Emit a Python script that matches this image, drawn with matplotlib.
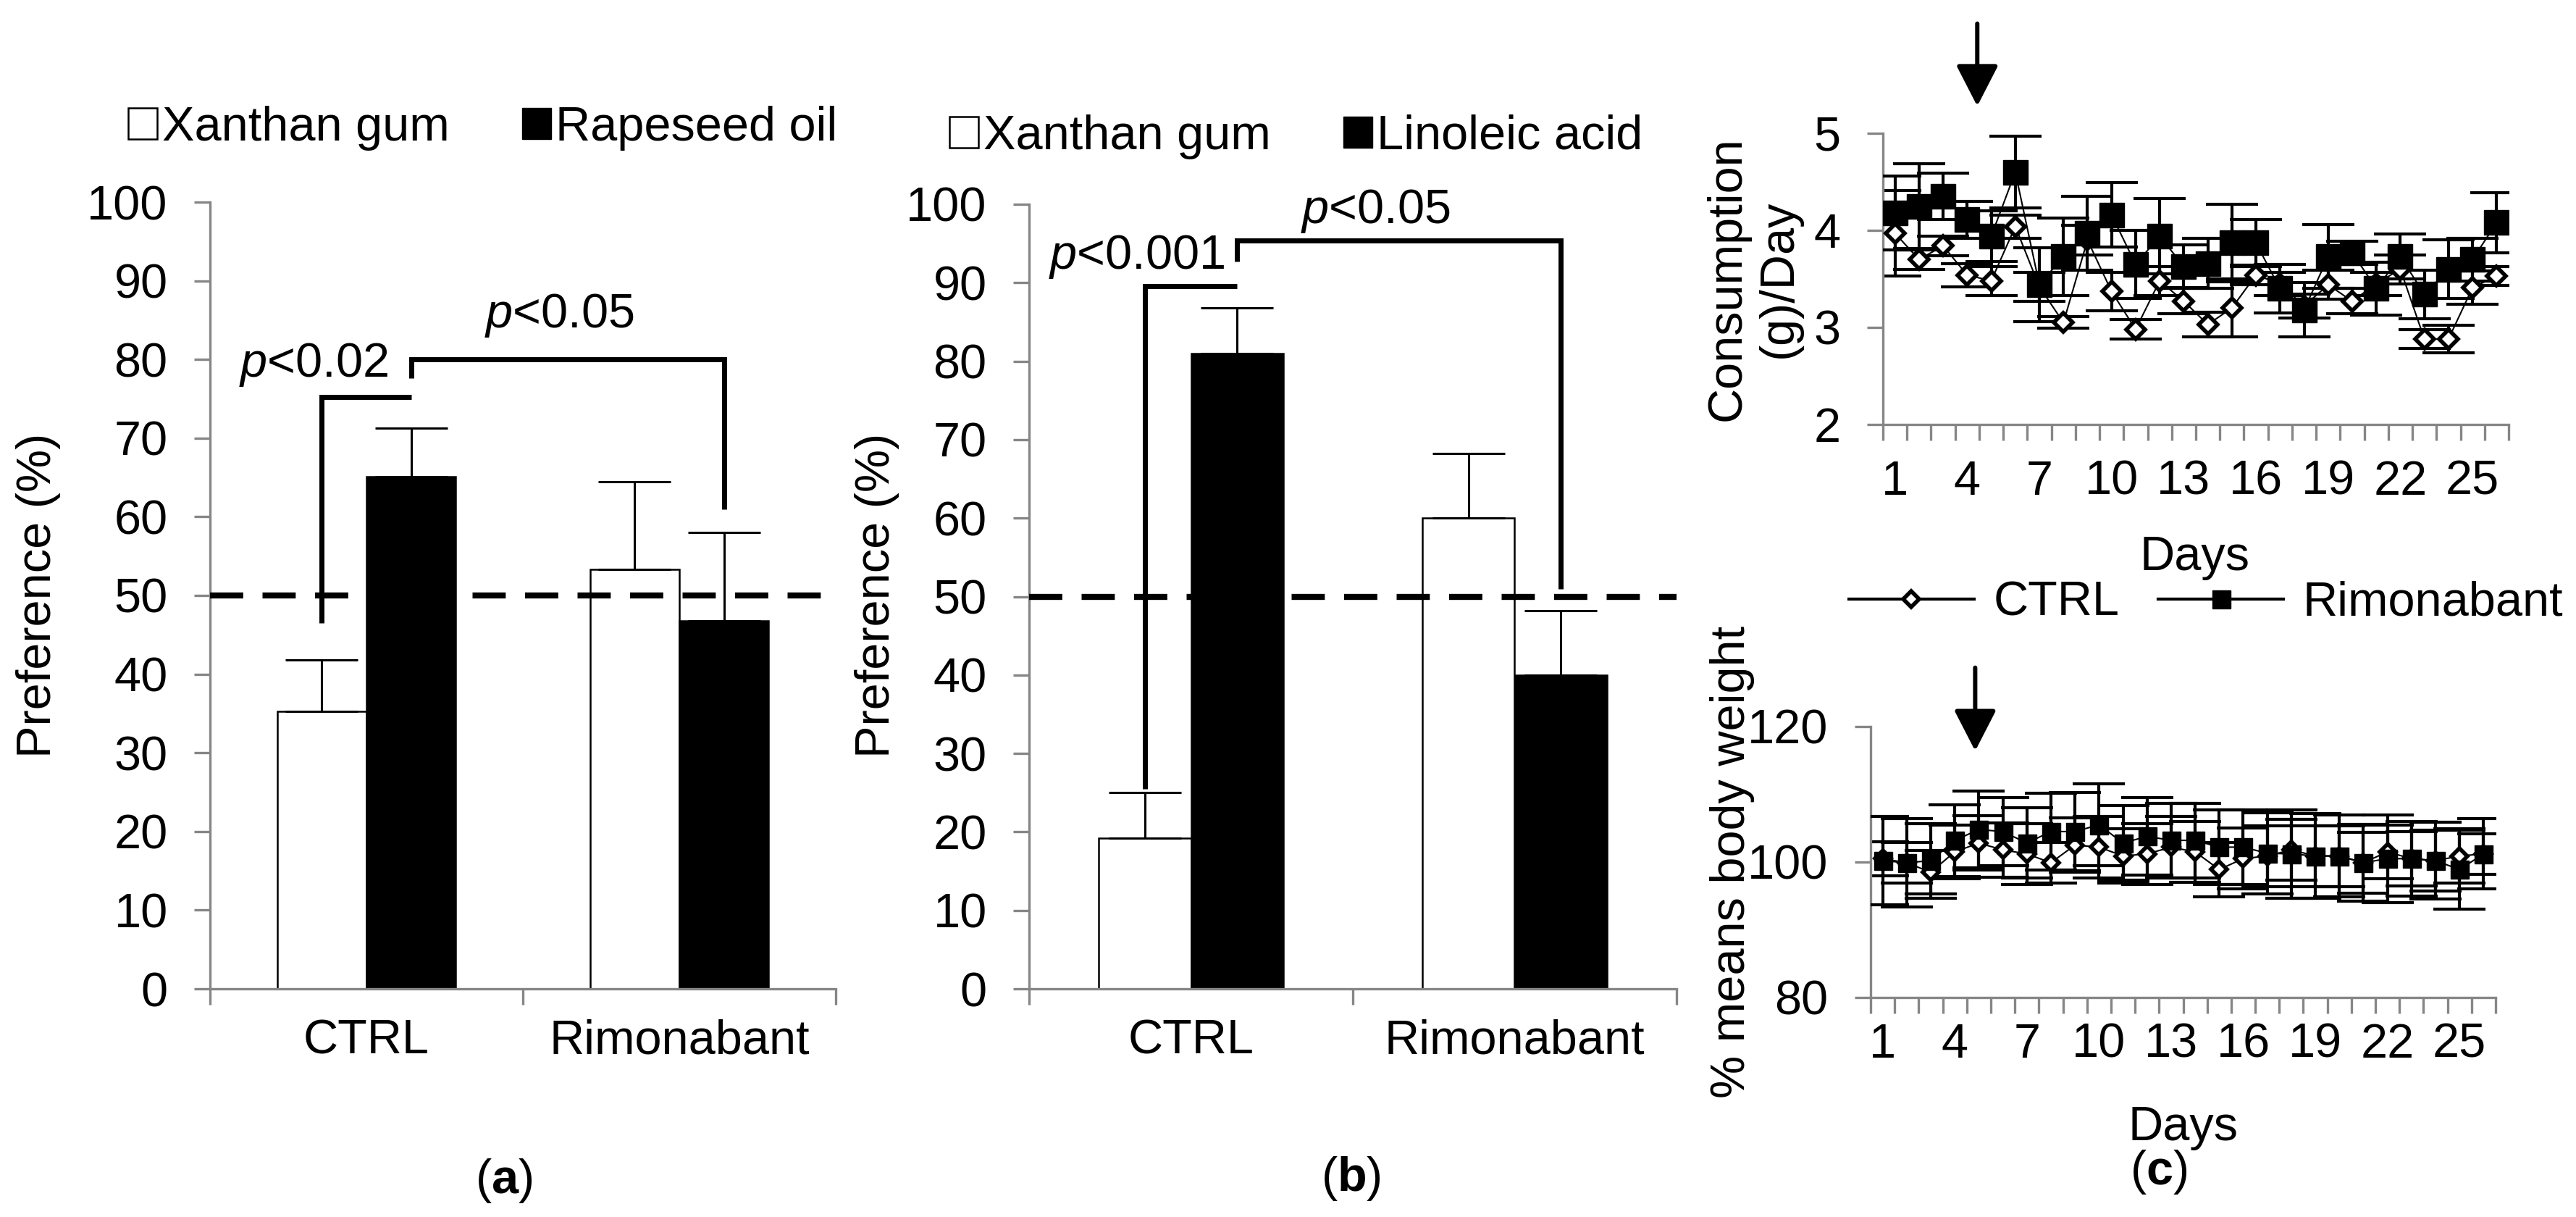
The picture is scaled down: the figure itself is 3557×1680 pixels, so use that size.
import numpy as np
import matplotlib
matplotlib.use('Agg')
import matplotlib.pyplot as plt
from matplotlib.patches import Patch
from matplotlib.lines import Line2D

plt.rcParams['font.family'] = ['Liberation Sans', 'DejaVu Sans']
plt.rcParams['mathtext.fontset'] = 'custom'
plt.rcParams['mathtext.rm'] = 'Liberation Sans'
plt.rcParams['mathtext.it'] = 'Liberation Sans:italic'
plt.rcParams['mathtext.bf'] = 'Liberation Sans:bold'

# ---- data ----
groups = ['CTRL', 'Rimonabant']

a_xanthan = [35.3, 53.3]
a_xanthan_err = [6.5, 11.2]
a_rapeseed = [65.1, 46.8]
a_rapeseed_err = [6.2, 11.2]

b_xanthan = [19.2, 60.0]
b_xanthan_err = [5.8, 8.2]
b_linoleic = [81.0, 40.0]
b_linoleic_err = [5.8, 8.2]

days = np.arange(1, 27)
day_labels = [1, 4, 7, 10, 13, 16, 19, 22, 25]

cons_ctrl = [3.97, 3.70, 3.84, 3.54, 3.48, 4.04, 3.42, 3.05, 3.90, 3.37, 2.98, 3.48, 3.27,
             3.03, 3.20, 3.54, 3.45, 3.22, 3.44, 3.27, 3.45, 3.60, 2.88, 2.88, 3.41, 3.53]
cons_ctrl_err = [0.44, 0.10, 0.10, 0.12, 0.15, 0.12, 0.15, 0.06, 0.15, 0.20, 0.10, 0.15, 0.13,
                 0.13, 0.30, 0.10, 0.12, 0.12, 0.15, 0.13, 0.12, 0.15, 0.10, 0.14, 0.17, 0.10]
cons_rim = [4.18, 4.25, 4.35, 4.11, 3.94, 4.60, 3.44, 3.73, 3.97, 4.16, 3.65, 3.94, 3.63,
            3.66, 3.87, 3.87, 3.40, 3.18, 3.73, 3.77, 3.40, 3.73, 3.34, 3.60, 3.70, 4.08]
cons_rim_err = [0.38, 0.44, 0.24, 0.19, 0.26, 0.37, 0.38, 0.40, 0.38, 0.33, 0.35, 0.39, 0.22,
                0.26, 0.40, 0.24, 0.25, 0.28, 0.33, 0.12, 0.27, 0.23, 0.25, 0.30, 0.22, 0.31]

bw_ctrl = [100.5, 99.9, 98.5, 101.5, 102.8, 101.8, 101.2, 99.9, 102.5, 102.2, 100.9, 101.2, 102.2,
           101.5, 98.9, 100.5, 100.9, 101.8, 100.9, 100.9, 99.9, 101.5, 100.5, 100.2, 100.9, 101.2]
bw_ctrl_err = [2.5, 3.0, 3.2, 4.0, 4.0, 4.0, 4.5, 3.0, 4.0, 4.5, 4.0, 4.5, 4.5,
               4.5, 4.0, 4.5, 4.5, 4.5, 4.5, 4.5, 4.5, 4.0, 4.0, 4.5, 4.0, 3.0]
bw_rim = [100.2, 99.9, 100.2, 103.2, 104.8, 104.5, 102.8, 104.5, 104.5, 105.5, 102.8, 103.8, 103.2,
          103.2, 102.2, 102.2, 101.3, 101.2, 100.9, 100.9, 99.9, 100.5, 100.5, 100.2, 98.9, 101.2]
bw_rim_err = [6.5, 6.5, 5.5, 5.3, 5.7, 5.0, 5.2, 5.7, 5.8, 6.0, 5.5, 5.7, 5.5,
              5.5, 5.5, 5.5, 6.0, 6.5, 6.3, 6.0, 5.7, 6.5, 5.5, 5.7, 5.8, 5.2]

# ---- layout helpers (pixel -> figure fraction) ----
W, H = 3557, 1680
FS = 48
AXIS_GREY = '#868686'


def fx(x):
    return x / W


def fy(y):
    return 1 - y / H


fig = plt.figure(figsize=(W / 100, H / 100), dpi=100)


def style_axes(ax, xpad):
    for s in ['top', 'right']:
        ax.spines[s].set_visible(False)
    for s in ['left', 'bottom']:
        ax.spines[s].set_color(AXIS_GREY)
        ax.spines[s].set_linewidth(2.4)
    ax.tick_params(axis='y', which='major', direction='out', length=16, width=2.4,
                   color=AXIS_GREY, pad=26, labelsize=FS)
    ax.tick_params(axis='x', which='major', direction='out', length=16, width=2.4,
                   color=AXIS_GREY, labelbottom=False)
    ax.tick_params(axis='x', which='minor', length=0, pad=xpad, labelsize=FS)


def bar_panel(ax, white, white_err, black, black_err):
    x = np.arange(len(groups))
    w = 0.285
    ax.bar(x - w / 2, white, w, color='white', edgecolor='black', lw=1.8, zorder=2)
    ax.bar(x + w / 2, black, w, color='black', edgecolor='black', lw=1.8, zorder=2)
    ax.errorbar(x - w / 2, white, yerr=[np.zeros(len(x)), white_err], fmt='none',
                ecolor='black', elinewidth=2.2, capsize=36, capthick=2.2, zorder=3)
    ax.errorbar(x + w / 2, black, yerr=[np.zeros(len(x)), black_err], fmt='none',
                ecolor='black', elinewidth=2.2, capsize=36, capthick=2.2, zorder=3)
    ax.axhline(50, color='black', lw=6, ls=(0, (5.5, 3.2)), zorder=4)
    ax.set_xlim(-0.5, 1.5)
    ax.set_ylim(0, 100)
    ax.set_yticks(range(0, 101, 10))
    ax.set_xticks([-0.5, 0.5, 1.5])
    ax.set_xticks(x, minor=True)
    ax.set_xticklabels(groups, minor=True)
    style_axes(ax, 30)
    return w


def bracket(ax, xs, ys):
    ax.plot(xs, ys, color='black', lw=5, solid_capstyle='butt',
            solid_joinstyle='miter', zorder=5, clip_on=False)


# ---- panel (a) ----
ax_a = fig.add_axes([fx(290), fy(1365), (1154 - 290) / W, (1365 - 279) / H])
w = bar_panel(ax_a, a_xanthan, a_xanthan_err, a_rapeseed, a_rapeseed_err)
bracket(ax_a, [-w / 2, -w / 2, w / 2], [46.5, 75.2, 75.2])
bracket(ax_a, [w / 2, w / 2, 1 + w / 2, 1 + w / 2], [77.6, 80.0, 80.0, 61.0])
ax_a.text(-0.17, 79.3, r'$p$<0.02', ha='center', va='center', fontsize=FS)
ax_a.text(0.616, 85.6, r'$p$<0.05', ha='center', va='center', fontsize=FS)
ax_a.legend(handles=[Patch(facecolor='white', edgecolor='black', lw=1.8, label='Xanthan gum'),
                     Patch(facecolor='black', edgecolor='black', label='Rapeseed oil')],
            loc='center', bbox_to_anchor=(fx(667), fy(177)), bbox_transform=fig.transFigure,
            ncol=2, frameon=False, fontsize=FS, handlelength=0.6, handleheight=0.6,
            handletextpad=0.1, columnspacing=1.5, borderpad=0, borderaxespad=0)

# ---- panel (b) ----
ax_b = fig.add_axes([fx(1421), fy(1365), (2315 - 1421) / W, (1365 - 282) / H])
w = bar_panel(ax_b, b_xanthan, b_xanthan_err, b_linoleic, b_linoleic_err)
bracket(ax_b, [-w / 2, -w / 2, w / 2], [25.5, 89.6, 89.6])
bracket(ax_b, [w / 2, w / 2, 1 + w / 2, 1 + w / 2], [92.7, 95.4, 95.4, 51.0])
ax_b.text(-0.167, 93.3, r'$p$<0.001', ha='center', va='center', fontsize=FS)
ax_b.text(0.57, 99.1, r'$p$<0.05', ha='center', va='center', fontsize=FS)
ax_b.legend(handles=[Patch(facecolor='white', edgecolor='black', lw=1.8, label='Xanthan gum'),
                     Patch(facecolor='black', edgecolor='black', label='Linoleic acid')],
            loc='center', bbox_to_anchor=(fx(1790), fy(189)), bbox_transform=fig.transFigure,
            ncol=2, frameon=False, fontsize=FS, handlelength=0.6, handleheight=0.6,
            handletextpad=0.1, columnspacing=1.5, borderpad=0, borderaxespad=0)


# ---- panel (c) ----
def line_panel(ax, ctrl, ctrl_err, rim, rim_err, ylim, yticks, xpad, sq, dm):
    ax.errorbar(days, ctrl, yerr=ctrl_err, fmt='none', ecolor='black', elinewidth=3,
                capsize=26, capthick=3, zorder=2)
    ax.errorbar(days, rim, yerr=rim_err, fmt='none', ecolor='black', elinewidth=3,
                capsize=26, capthick=3, zorder=3)
    ax.plot(days, ctrl, color='black', lw=1.5, marker='D', ms=dm, mfc='white', mec='black',
            mew=4, zorder=4)
    ax.plot(days, rim, color='black', lw=1.5, marker='s', ms=sq, mfc='black', mec='black',
            zorder=5)
    ax.set_xlim(0.5, 26.5)
    ax.set_ylim(*ylim)
    ax.set_yticks(yticks)
    ax.set_xticks(np.arange(0.5, 27, 1))
    ax.set_xticks(day_labels, minor=True)
    ax.set_xticklabels([str(d) for d in day_labels], minor=True)
    style_axes(ax, xpad)


ax_c1 = fig.add_axes([fx(2600), fy(586), (3464 - 2600) / W, (586 - 184) / H])
line_panel(ax_c1, cons_ctrl, cons_ctrl_err, cons_rim, cons_rim_err, (2, 5), [2, 3, 4, 5], 35,
           24, 13)
ax_c1.annotate('', xy=(4.42, 5.28), xytext=(4.42, 6.13), xycoords='data',
               arrowprops=dict(arrowstyle='-|>,head_length=0.7,head_width=0.36', lw=4.3,
                               color='black', mutation_scale=50, shrinkA=0, shrinkB=0),
               annotation_clip=False)

ax_c2 = fig.add_axes([fx(2583), fy(1377), (3446 - 2583) / W, (1377 - 1003) / H])
line_panel(ax_c2, bw_ctrl, bw_ctrl_err, bw_rim, bw_rim_err, (80, 120), [80, 100, 120], 25,
           18, 11)
ax_c2.annotate('', xy=(4.85, 116.4), xytext=(4.85, 128.7), xycoords='data',
               arrowprops=dict(arrowstyle='-|>,head_length=0.7,head_width=0.36', lw=4.3,
                               color='black', mutation_scale=50, shrinkA=0, shrinkB=0),
               annotation_clip=False)

fig.legend(handles=[Line2D([0], [0], color='black', lw=3, marker='D', ms=11, mfc='white',
                           mec='black', mew=4, label='CTRL'),
                    Line2D([0], [0], color='black', lw=3, marker='s', ms=18, mfc='black',
                           mec='black', label='Rimonabant')],
           loc='center', bbox_to_anchor=(fx(3046), fy(833)), ncol=2, frameon=False,
           fontsize=FS, handlelength=2.6, handletextpad=0.4, columnspacing=0.8,
           borderpad=0, borderaxespad=0)

# ---- axis titles and panel letters ----
fig.text(fx(53), fy(822), 'Preference (%)', rotation=90, ha='center', va='center', fontsize=FS)
fig.text(fx(1211), fy(822), 'Preference (%)', rotation=90, ha='center', va='center', fontsize=FS)
fig.text(fx(2421), fy(385), 'Consumption\n(g)/Day', rotation=90, ha='center', va='center',
         multialignment='center', fontsize=FS)
fig.text(fx(2392), fy(1190), '% means body weight', rotation=90, ha='center', va='center',
         fontsize=FS)
fig.text(fx(3030), fy(770), 'Days', ha='center', va='center', fontsize=FS)
fig.text(fx(3015), fy(1557), 'Days', ha='center', va='center', fontsize=FS)

fig.text(fx(696), fy(1630), r'($\mathbf{a}$)', ha='center', va='center', fontsize=FS)
fig.text(fx(1865), fy(1627), r'($\mathbf{b}$)', ha='center', va='center', fontsize=FS)
fig.text(fx(2981), fy(1618), r'($\mathbf{c}$)', ha='center', va='center', fontsize=FS)

fig.savefig('out.png', dpi=100, facecolor='white')
